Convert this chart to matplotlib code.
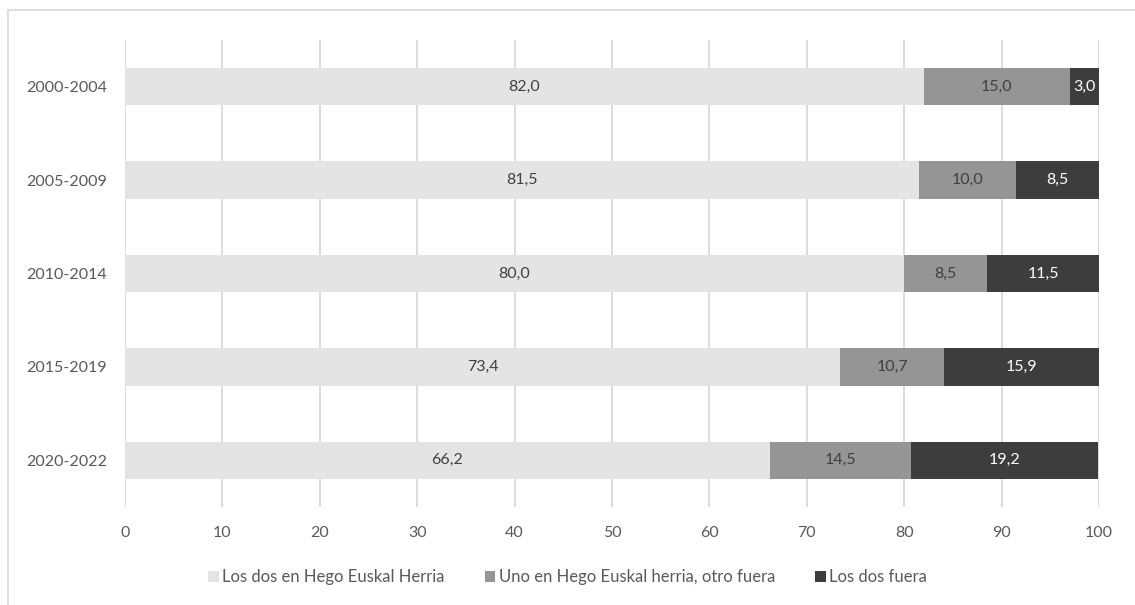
import matplotlib
matplotlib.use("Agg")
import matplotlib.pyplot as plt
from matplotlib.patches import Rectangle
import numpy as np

categories = ["2000-2004", "2005-2009", "2010-2014", "2015-2019", "2020-2022"]
series_names = ["Los dos en Hego Euskal Herria",
                "Uno en Hego Euskal herria, otro fuera",
                "Los dos fuera"]
both_in = [82.0, 81.5, 80.0, 73.4, 66.2]
one_in = [15.0, 10.0, 8.5, 10.7, 14.5]
both_out = [3.0, 8.5, 11.5, 15.9, 19.2]
xticks = [0, 10, 20, 30, 40, 50, 60, 70, 80, 90, 100]

colors = ["#e4e4e4", "#959595", "#3d3d3d"]
text_colors = ["#404040", "#404040", "#ffffff"]

plt.rcParams['font.family'] = ['Lato', 'DejaVu Sans']

W, H = 1135, 605
fig = plt.figure(figsize=(W / 100, H / 100), dpi=100)
ax = fig.add_axes([125 / W, 1 - 507 / H, (1099 - 125) / W, (507 - 40) / H])

y = np.arange(len(categories))
left = np.zeros(len(categories))
for vals, col, tcol, name in zip([both_in, one_in, both_out], colors, text_colors, series_names):
    ax.barh(y, vals, left=left, height=0.4, color=col, label=name, zorder=3)
    for yi, l, v in zip(y, left, vals):
        ax.text(l + v / 2, yi, f"{v:.1f}".replace(".", ","), ha="center", va="center",
                color=tcol, fontsize=11.5, zorder=4)
    left = left + np.array(vals)

ax.set_xlim(0, 100)
ax.set_ylim(4.5, -0.5)
ax.set_yticks(y)
ax.set_yticklabels(categories)
ax.set_xticks(xticks)
ax.set_xticklabels([str(t) for t in xticks])
ax.tick_params(axis="both", length=0, labelsize=11.5, colors="#595959")
ax.tick_params(axis="x", pad=14)
ax.tick_params(axis="y", pad=13)
ax.xaxis.grid(True, color="#d9d9d9", linewidth=1.3, zorder=0)
for s in ax.spines.values():
    s.set_visible(False)

fig.legend(loc="center", bbox_to_anchor=(0.5, 1 - 577 / H), ncol=3, frameon=False,
           fontsize=12, handlelength=0.65, handleheight=0.65, handletextpad=0.2,
           columnspacing=2.4, labelcolor="#595959")

fig.patches.append(Rectangle((8 / W, -0.2), 1.2, 1.2 - 10 / H, transform=fig.transFigure,
                             fill=False, edgecolor="#d9d9d9", linewidth=1.2))

fig.savefig("out.png", dpi=100)
